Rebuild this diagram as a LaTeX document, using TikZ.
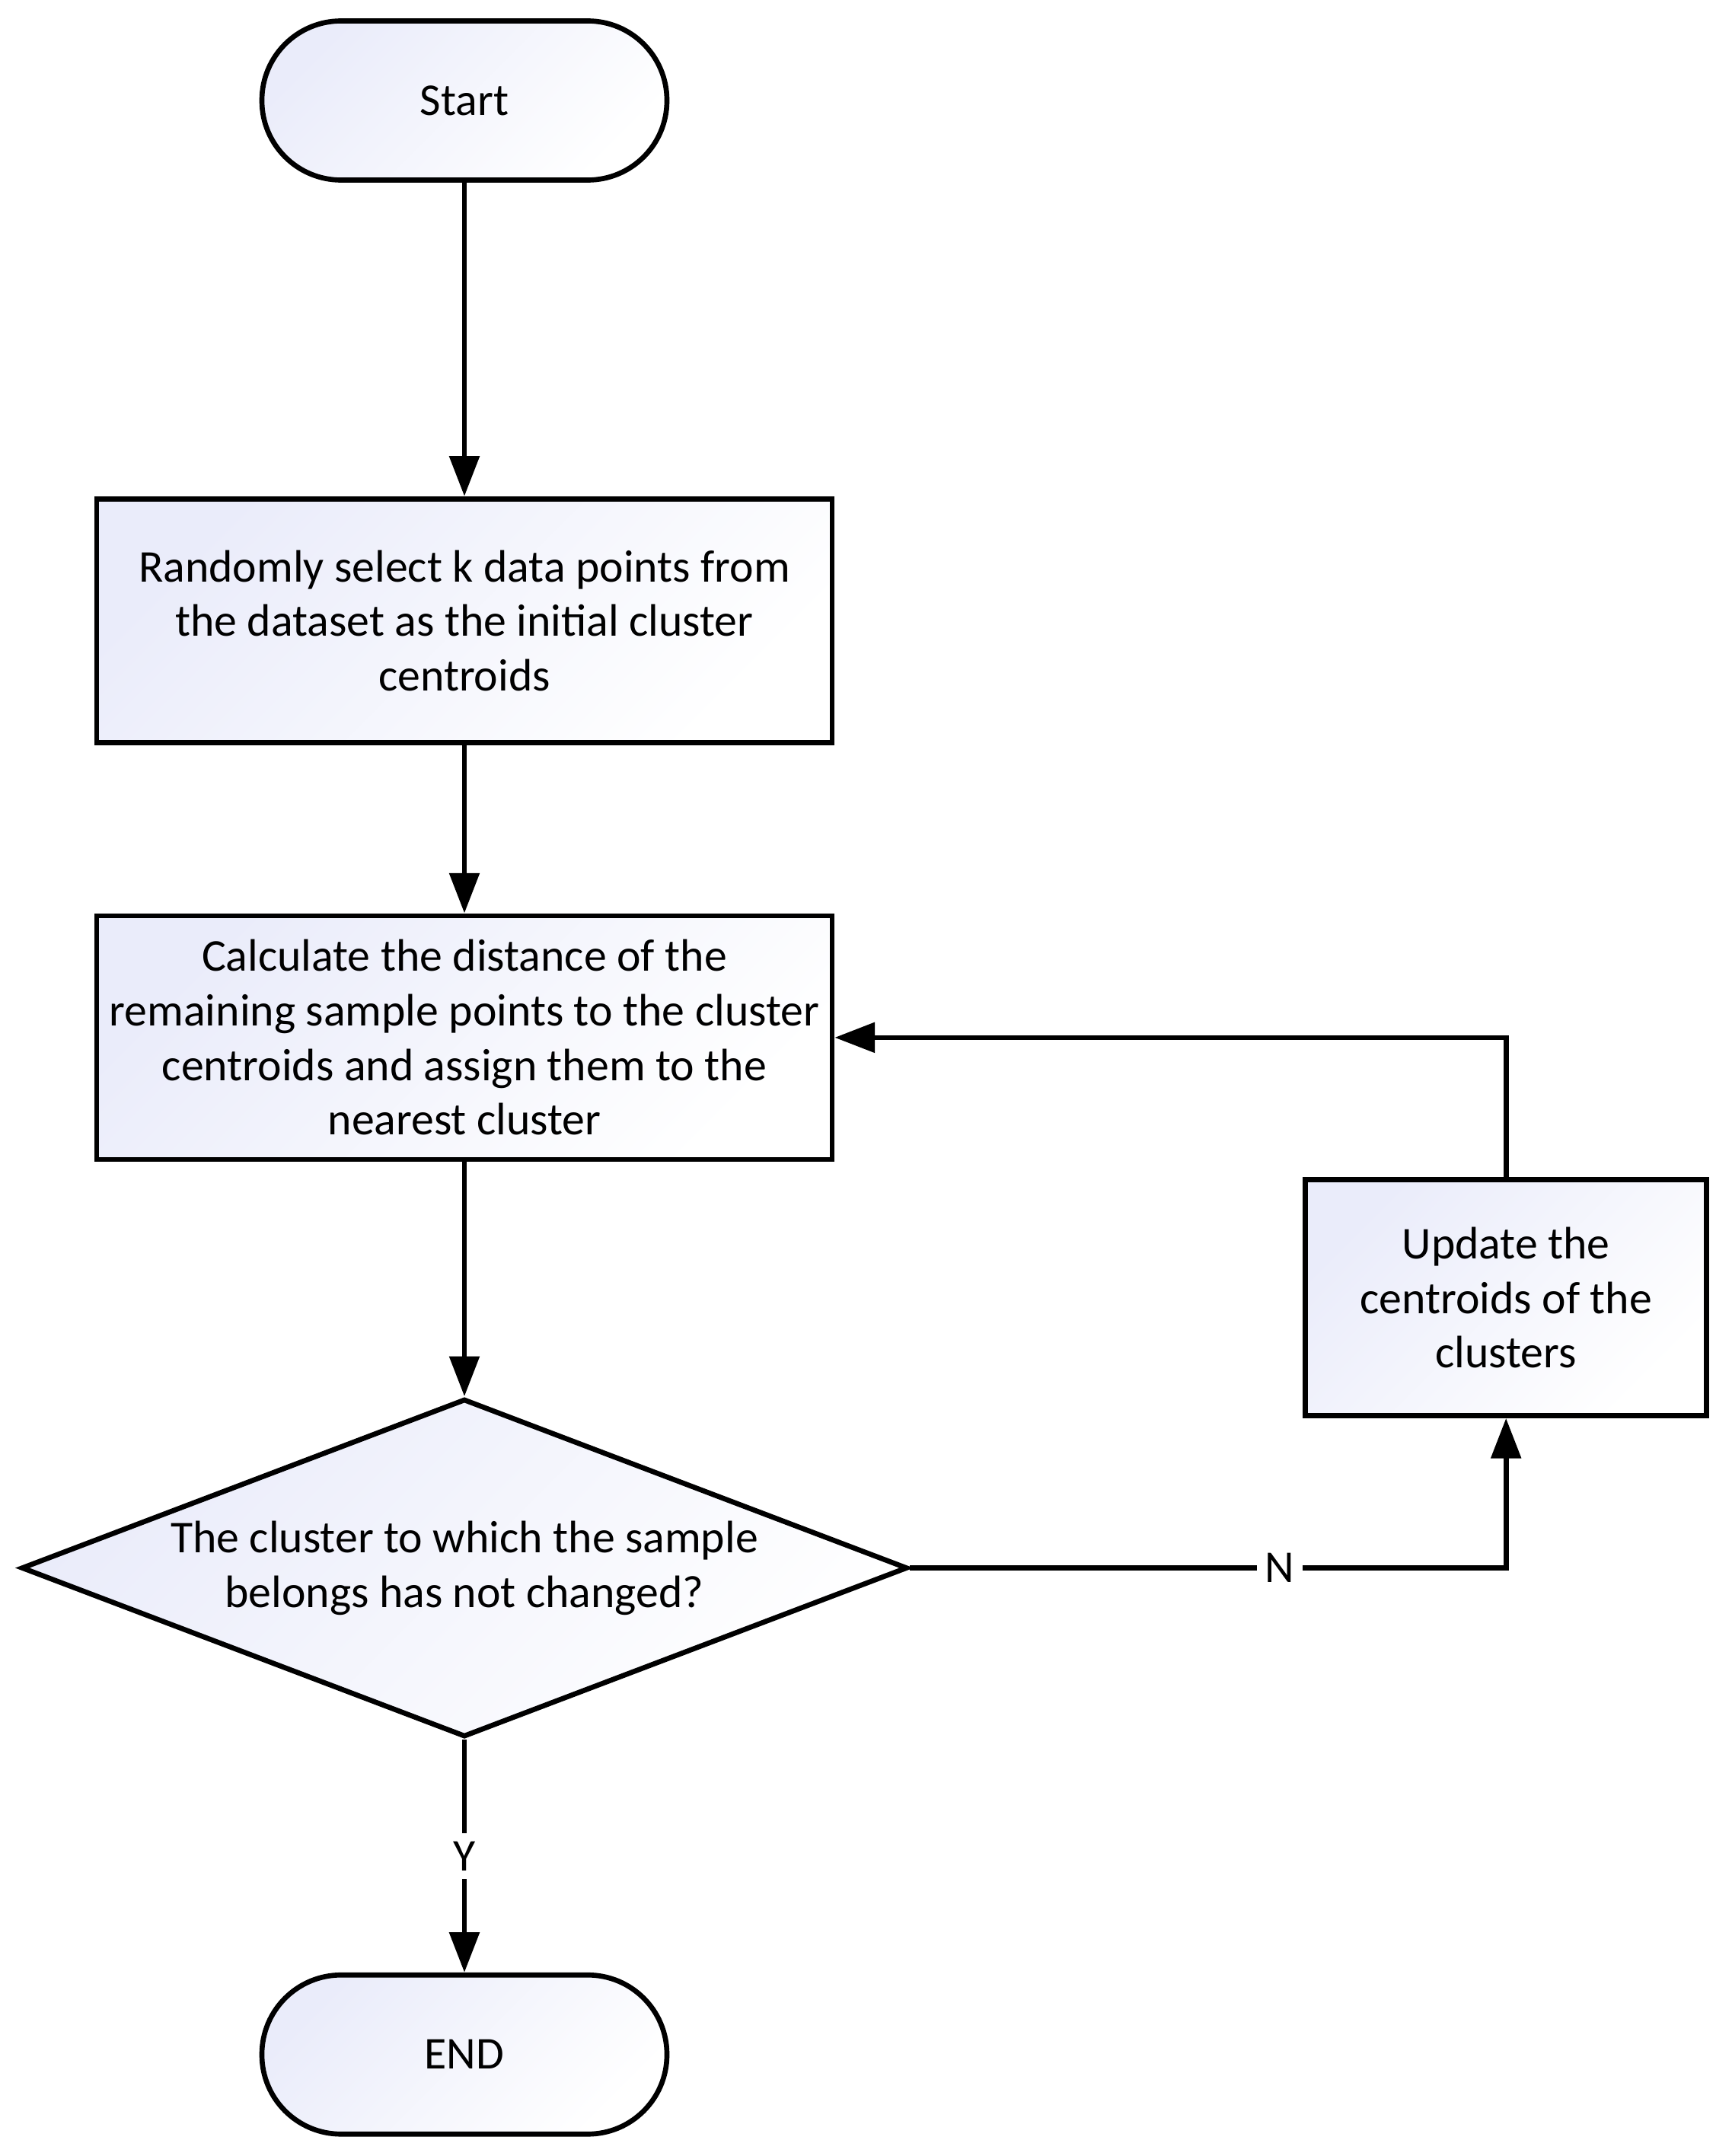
\documentclass[tikz,border=0pt]{standalone}
\usepackage{fontspec}
\setmainfont{Carlito}
\usepackage{tikz}
\usetikzlibrary{arrows.meta, positioning, shapes.geometric}
\usepackage{xcolor}
\definecolor{lav}{RGB}{234,236,250}

\begin{document}
\begin{tikzpicture}[
node distance=2cm,
base/.style={draw,
line width=1.9pt,
top color=lav,
bottom color=white,
shading angle=45,
align=center,
font=\fontsize{17}{20.4}\selectfont},
terminal/.style={base,
rectangle,
rounded corners=1.04cm,
minimum width=5.32cm,
minimum height=2.09cm},
box/.style={base,
rectangle,
minimum width=9.66cm,
minimum height=3.20cm},
decision/.style={base,
diamond,
aspect=2.62,
inner sep=0pt,
minimum width=11.64cm,
minimum height=4.44cm},
arrow/.style={-{Triangle[width=11pt,length=15pt]}, line width=1.9pt},
lbl/.style={fill=white, inner sep=3pt, font=\fontsize{17}{20.4}\selectfont}
]

\useasboundingbox (0,0) rectangle (22.74,-28.32);

\node[terminal] (start) at (6.10,-1.32) {Start};
\node[box, below=4.12cm of start] (init) {Randomly select k data points from\\the dataset as the initial cluster\\centroids};
\node[box, below=2.21cm of init] (assign) {Calculate the distance of the\\remaining sample points to the cluster\\centroids and assign them to the\\nearest cluster};
\node[decision, below=3.08cm of assign] (check) {The cluster to which the sample\\belongs has not changed?};
\node[terminal, below=3.06cm of check] (stop) {END};
\node[box, minimum width=5.27cm, minimum height=3.10cm, below right=0.2cm and 6.15cm of assign.south east] (update) {Update the\\centroids of the\\clusters};

\draw[arrow] (start) -- (init);
\draw[arrow] (init) -- (assign);
\draw[arrow] (assign) -- (check);
\draw[arrow] (check) -- node[lbl] {Y} (stop);
\draw[arrow] (check.east) -| node[lbl, pos=0.31] {N} (update.south);
\draw[arrow] (update.north) |- (assign.east);

\end{tikzpicture}
\end{document}
